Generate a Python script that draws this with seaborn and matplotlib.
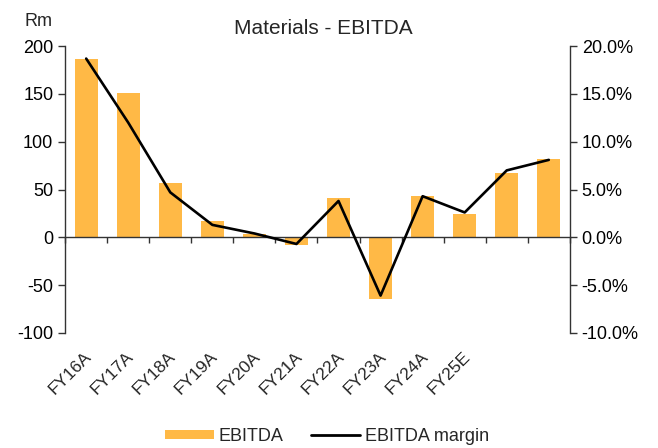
import numpy as np
import matplotlib
matplotlib.use("Agg")
import matplotlib.pyplot as plt
import seaborn as sns
from matplotlib.lines import Line2D
from matplotlib.patches import Patch

# data
years = ["FY16A", "FY17A", "FY18A", "FY19A", "FY20A", "FY21A",
         "FY22A", "FY23A", "FY24A", "FY25E", "", ""]
ebitda = [187, 151, 57, 17, 3, -8, 41, -65, 43, 24, 67, 82]
margin = [18.7, 12.0, 4.7, 1.3, 0.4, -0.7, 3.8, -6.1, 4.3, 2.6, 7.0, 8.1]

bar_col = "#FFB946"
fs = 13

sns.set_style("ticks")
plt.rcParams["font.family"] = ["Liberation Sans", "DejaVu Sans"]
plt.rcParams["axes.unicode_minus"] = False

fig = plt.figure(figsize=(6.58, 4.48), dpi=100)
ax = fig.add_axes([0.099, 0.257, 0.767, 0.640])

x = np.arange(len(years))
sns.barplot(x=x, y=ebitda, color=bar_col, width=0.55, saturation=1,
            edgecolor="none", ax=ax)

ax.set_ylim(-100, 200)
ax.set_yticks([-100, -50, 0, 50, 100, 150, 200])
ax.set_xlim(-0.5, len(years) - 0.5)

# x axis line sits at zero with ticks between categories
ax.spines["bottom"].set_position(("data", 0))
ax.spines["top"].set_visible(False)
ax.spines["right"].set_visible(False)
ax.set_xticks(np.arange(len(years) + 1) - 0.5)
ax.set_xticklabels([])
ax.tick_params(axis="x", length=4, width=1, colors="#333333")
ax.tick_params(axis="y", length=5, width=1, colors="#333333",
               labelcolor="black", labelsize=fs)
for s in ["left", "bottom"]:
    ax.spines[s].set_color("#333333")
    ax.spines[s].set_linewidth(1)

for i, lab in enumerate(years):
    ax.text(i - 0.05, -0.055, lab, transform=ax.get_xaxis_transform(),
            rotation=45, ha="right", va="top", rotation_mode="anchor",
            fontsize=12.5)

ax2 = ax.twinx()
sns.lineplot(x=x, y=margin, color="black", linewidth=1.9, ax=ax2)
ax2.set_ylim(-10, 20)
ax2.set_yticks([-10, -5, 0, 5, 10, 15, 20])
ax2.set_yticklabels([f"{v:.1f}%" for v in ax2.get_yticks()])
for s in ["left", "top", "bottom"]:
    ax2.spines[s].set_visible(False)
ax2.spines["right"].set_color("#333333")
ax2.spines["right"].set_linewidth(1)
ax2.tick_params(axis="y", length=5, width=1, colors="#333333",
                labelcolor="black", labelsize=fs)

ax.set_ylabel("")
ax2.set_ylabel("")

fig.text(0.059, 0.953, "Rm", ha="center", va="center", fontsize=fs)
fig.text(0.492, 0.937, "Materials - EBITDA", ha="center", va="center",
         fontsize=15)

handles = [Patch(facecolor=bar_col, edgecolor="none"),
           Line2D([], [], color="black", linewidth=2)]
fig.legend(handles, ["EBITDA", "EBITDA margin"], loc="center",
           bbox_to_anchor=(0.497, 0.026), ncol=2, frameon=False,
           fontsize=fs, handlelength=2.7, handleheight=0.4,
           columnspacing=1.5, handletextpad=0.3)

fig.savefig("out.png", dpi=100)
